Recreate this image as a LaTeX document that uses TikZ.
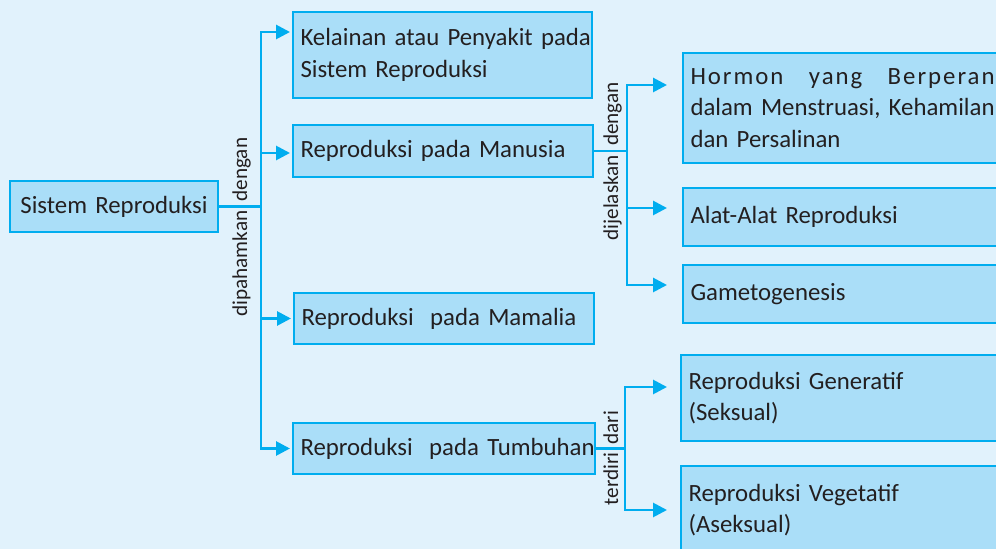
\documentclass[tikz,border=0pt]{standalone}
\usepackage{fontspec}
\usepackage{calc}
\setmainfont{Carlito}
\usetikzlibrary{arrows.meta}
\definecolor{ReproPaper}{RGB}{225,242,252}
\definecolor{ReproBox}{RGB}{170,222,248}
\definecolor{ReproLine}{RGB}{0,173,239}
\definecolor{ReproInk}{RGB}{35,31,32}
\tikzset{
    repro/diagram/.style={
        font=\fontsize{12.4}{15.75}\selectfont,
        text=ReproInk,
        line join=miter,
        every node/.style={inner sep=0pt, outer sep=0pt}
    },
    repro/box/.style={
        draw=ReproLine, fill=ReproBox, line width=1.2pt,
        anchor=north west, align=left, inner xsep=3.75pt, inner ysep=0pt
    },
    repro/link/.style={draw=ReproLine, line width=1.4pt},
    repro/feed/.style={
        draw=ReproLine, line width=1.4pt,
        -{Triangle[length=7pt, width=7pt]}
    },
    repro/verb/.style={
        font=\fontsize{10.6}{12}\selectfont, rotate=90, inner sep=0pt
    }
}

\begin{document}
\begin{tikzpicture}[repro/diagram, x=0.5pt, y=-0.5pt]
    \useasboundingbox (0,0) rectangle (996,549);
    \fill[ReproPaper] (0,0) rectangle (996,549);
    \clip (0,0) rectangle (996,549);
    \node[repro/box, align=center, text width=96.5pt, minimum height=25.5pt]
        (sis) at (10,181) {\mbox{Sistem Reproduksi}};
    \node[repro/box, text width=142pt, minimum height=43pt]
        (kel) at (293,12) {\mbox{Kelainan atau Penyakit pada}\\Sistem Reproduksi};
    \node[repro/box, text width=142.5pt, minimum height=26pt]
        (man) at (293,125) {Reproduksi pada Manusia};
    \node[repro/box, text width=142.5pt, minimum height=25.5pt]
        (mam) at (294,293) {\mbox{Reproduksi\ \ pada Mamalia}};
    \node[repro/box, text width=143.5pt, minimum height=25.5pt]
        (tum) at (293,423) {\mbox{Reproduksi\ \ pada Tumbuhan}};
    \node[repro/box, text width=169.5pt, minimum height=55pt]
        (hor) at (683,53) {\makebox[\widthof{dalam Menstruasi, Kehamilan}][l]{%
        \addfontfeature{LetterSpace=8}Hormon\hfill yang\hfill Berperan}\\
        dalam Menstruasi, Kehamilan\\dan Persalinan};
    \node[repro/box, text width=169.5pt, minimum height=29pt]
        (ala) at (683,188) {Alat-Alat Reproduksi};
    \node[repro/box, text width=169.5pt, minimum height=29pt]
        (gam) at (683,265) {Gametogenesis};
    \node[repro/box, text width=169.5pt, minimum height=43pt]
        (gen) at (681,355) {Reproduksi Generatif\\(Seksual)};
    \node[repro/box, text width=169.5pt, minimum height=44pt]
        (veg) at (681,466) {Reproduksi Vegetatif\\(Aseksual)};

    \coordinate (x1) at (261,0);
    \coordinate (x2) at (627,0);
    \coordinate (x3) at (625,0);
    \coordinate (j1) at (sis.east -| x1);
    \coordinate (j2) at (man.east -| x2);
    \coordinate (j3) at (tum.east -| x3);
    \coordinate (kelin) at ([shift={(-3,20)}]kel.north west);
    \coordinate (manin) at ([shift={(-3,2)}]man.west);
    \coordinate (mamin) at ([shift={(-3,0)}]mam.west);
    \coordinate (tumin) at ([shift={(-3,0)}]tum.west);
    \coordinate (horin) at ([shift={(-16,32)}]hor.north west);
    \coordinate (alain) at ([shift={(-16,20)}]ala.north west);
    \coordinate (gamin) at ([shift={(-16,20)}]gam.north west);
    \coordinate (genin) at ([shift={(-14,32)}]gen.north west);
    \coordinate (vegin) at ([shift={(-14,44)}]veg.north west);

    \draw[repro/link] (sis) -- (j1);
    \draw[repro/feed] (j1) |- (kelin);
    \draw[repro/feed] (j1) |- (manin);
    \draw[repro/feed] (j1) |- (mamin);
    \draw[repro/feed] (j1) |- (tumin);
    \node[repro/verb, anchor=base west] (lab1a) at ([shift={(-14,-5)}]j1) {dengan};
    \node[repro/verb, anchor=base east] (lab1b) at ([shift={(-14,4)}]j1) {dipahamkan};

    \draw[repro/link] (man) -- (j2);
    \draw[repro/feed] (j2) |- (horin);
    \draw[repro/feed] (j2) |- (alain);
    \draw[repro/feed] (j2) |- (gamin);
    \node[repro/verb, anchor=base west] (lab2a) at ([shift={(-9,-5)}]j2) {dengan};
    \node[repro/verb, anchor=base east] (lab2b) at ([shift={(-9,4)}]j2) {dijelaskan};

    \draw[repro/link] (tum) -- (j3);
    \draw[repro/feed] (j3) |- (genin);
    \draw[repro/feed] (j3) |- (vegin);
    \node[repro/verb, anchor=base west] (lab3a) at ([shift={(-7,-4)}]j3) {dari};
    \node[repro/verb, anchor=base east] (lab3b) at ([shift={(-7,4)}]j3) {terdiri};
\end{tikzpicture}
\end{document}
